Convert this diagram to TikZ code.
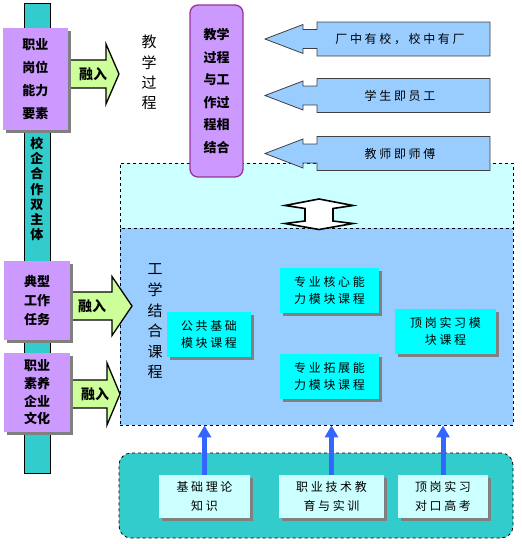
\documentclass[tikz,border=0pt]{standalone}
\usepackage{fontspec}
\setmainfont{Noto Sans CJK SC}
\newfontfamily\cjksp{Noto Sans CJK SC}[LetterSpace=22]
\usetikzlibrary{shadows,arrows.meta}
\definecolor{purp}{HTML}{CC99FF}
\definecolor{darkpurp}{HTML}{993399}
\definecolor{tealc}{HTML}{33CCCC}
\definecolor{lgreen}{HTML}{CCFF99}
\definecolor{lblue}{HTML}{99CCFF}
\definecolor{lcyan}{HTML}{CCFFFF}
\definecolor{cyanc}{HTML}{00FFFF}
\definecolor{arrowblue}{HTML}{3366FF}
\definecolor{shgray}{HTML}{808080}
\newcommand\callout[1]{%
  \draw[larrow] (265,#1) -- (303,#1-14.5) -- (303,#1-9.5) -- (317,#1-9.5) -- (317,#1-17) -- (490,#1-17)
   -- (490,#1+17) -- (317,#1+17) -- (317,#1+9.5) -- (303,#1+9.5) -- (303,#1+14.5) -- cycle;}
\tikzset{
  shad/.style={drop shadow={shadow xshift=3pt,shadow yshift=-3pt,opacity=1,fill=shgray}},
  pbox/.style={fill=purp, inner sep=0, align=center, shad},
  mbox/.style={fill=cyanc, inner sep=0, align=center, shad, font=\cjksp\fontsize{12}{17}\selectfont},
  bbox/.style={fill=lcyan, inner sep=0, align=center, shad, font=\cjksp\fontsize{12}{19}\selectfont},
  garrow/.style={fill=lgreen, draw=black, line width=1.3pt, line join=miter},
  larrow/.style={fill=lblue, draw=black!75, line width=0.8pt},
  ltext/.style={font=\cjksp\fontsize{12}{14}\selectfont, inner sep=0},
  rongru/.style={font=\bfseries\fontsize{14}{14}\selectfont, inner sep=0},
  vtext/.style={align=center, inner sep=0},
  upar/.style={draw=arrowblue, line width=5pt, -{Triangle[width=13pt,length=12pt]}},
  region/.style={draw=black, dashed, line width=0.8pt, inner sep=0},
}
\begin{document}
\begin{tikzpicture}[x=1pt,y=-1pt]
\useasboundingbox (0,0) rectangle (522,544);
% vertical bar
\node[fill=tealc, draw=black, line width=0.8pt, minimum width=26, minimum height=470, inner sep=0] (bar) at (37,238) {};
\node[vtext, font=\bfseries\fontsize{13}{15.3}\selectfont] (bartxt) at (37,189) {校\\企\\合\\作\\双\\主\\体};
% regions
\node[region, fill=lcyan, minimum width=393, minimum height=262] (cyanreg) at (316.5,294) {};
\node[region, fill=lblue, minimum width=393, minimum height=197] (blue) at (316.5,326.5) {};
% left callouts
\callout{39}
\callout{95.5}
\callout{153.5}
\node[ltext] (c1) at (400,39) {厂中有校，校中有厂};
\node[ltext] (c2) at (400,95.5) {学生即员工};
\node[ltext] (c3) at (400,153.5) {教师即师傅};
% rounded purple box
\node[fill=purp, draw=darkpurp, line width=1.3pt, rounded corners=8, minimum width=53, minimum height=172, inner sep=0, align=center, font=\bfseries\fontsize{13}{22.6}\selectfont] (R) at (216.5,91) {教学\\过程\\与工\\作过\\程相\\结合};
% double arrow
\draw[fill=white, draw=black, line width=1.6pt, line join=miter] (319,199) -- (353,205.5) -- (333,208.5) -- (333,221) -- (353,223.5) -- (319,229.5) -- (285,223.5) -- (305,221) -- (305,208.5) -- (285,205.5) -- cycle;
% green arrows
\draw[garrow] (60,60) -- (106,60) -- (106,44) -- (119,74) -- (106,104) -- (106,88) -- (60,88) -- cycle;
\draw[garrow] (60,292) -- (112,292) -- (112,276.5) -- (132,306) -- (112,335.5) -- (112,320) -- (60,320) -- cycle;
\draw[garrow] (60,380) -- (107,380) -- (107,363) -- (120,394) -- (107,425) -- (107,408) -- (60,408) -- cycle;
\node[rongru] (r1) at (93,74) {融入};
\node[rongru] (r2) at (92,306) {融入};
\node[rongru] (r3) at (95,394) {融入};
% purple boxes
\node[pbox, minimum width=65, minimum height=102, font=\bfseries\fontsize{13}{23}\selectfont] (P1) at (35.5,79) {职业\\岗位\\能力\\要素};
\node[pbox, minimum width=66, minimum height=79, font=\bfseries\fontsize{13}{19}\selectfont] (P2) at (37,300.5) {典型\\工作\\任务};
\node[pbox, minimum width=66, minimum height=79, font=\bfseries\fontsize{13}{17.6}\selectfont] (P3) at (37,392.5) {职业\\素养\\企业\\文化};
% vertical labels
\node[vtext, font=\fontsize{15}{20.3}\selectfont] (jx) at (149,72.5) {教\\学\\过\\程};
\node[vtext, font=\fontsize{15}{20.6}\selectfont] (gx) at (155,321.5) {工\\学\\结\\合\\课\\程};
% module boxes
\node[mbox, minimum width=84, minimum height=45] (C1) at (209,334.5) {公共基础\\模块课程};
\node[mbox, minimum width=99, minimum height=45] (C2) at (329.5,290.5) {专业核心能\\力模块课程};
\node[mbox, minimum width=99, minimum height=45] (C3) at (329.5,376.5) {专业拓展能\\力模块课程};
\node[mbox, minimum width=101, minimum height=45] (C4) at (445.5,331.5) {顶岗实习模\\块课程};
% bottom region
\node[region, fill=tealc, rounded corners=12, minimum width=394, minimum height=85] (bottom) at (316,495.5) {};
\node[bbox, minimum width=91, minimum height=43] (B1) at (204.5,496.5) {基础理论\\知识};
\node[bbox, minimum width=105, minimum height=43] (B2) at (331.5,496.5) {职业技术教\\育与实训};
\node[bbox, minimum width=90, minimum height=43] (B3) at (443,496.5) {顶岗实习\\对口高考};
\draw[upar] (B1.north) -- (B1.north |- blue.south);
\draw[upar] (B2.north) -- (B2.north |- blue.south);
\draw[upar] (B3.north) -- (B3.north |- blue.south);
\end{tikzpicture}
\end{document}
